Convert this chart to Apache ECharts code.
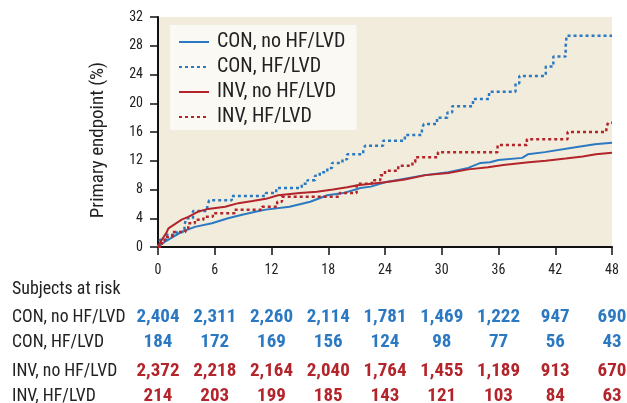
<!DOCTYPE html>
<html><head><meta charset="utf-8">
<script src="https://cdn.jsdelivr.net/npm/echarts@6/dist/echarts.min.js"></script>
<style>html,body{margin:0;padding:0;background:#fff}#c{width:627px;height:403px}</style>
</head><body><div id="c"></div>
<script>
const FONT = '"Roboto Condensed","Liberation Sans Narrow","Roboto",sans-serif';
const BLUE = '#2b79c2', RED = '#b3242b';

const seriesNames = ['CON, no HF/LVD', 'CON, HF/LVD', 'INV, no HF/LVD', 'INV, HF/LVD'];
const xTicks = [0, 6, 12, 18, 24, 30, 36, 42, 48];

// [month, %]
const conNoHF = [[0,0],[0.7,0.7],[2.5,2.1],[3.9,2.8],[5.7,3.3],[7.4,4.0],[8.9,4.5],[10.3,4.9],[11.4,5.2],[13.9,5.6],[16.1,6.3],[17.9,7.2],[19.6,7.5],[21.4,8.2],[22.5,8.4],[24,9.0],[28.2,10.0],[30.7,10.4],[32.8,11.0],[34.1,11.7],[35.1,11.8],[36,12.1],[38.5,12.4],[39.1,12.9],[40.9,13.2],[43.8,13.8],[46.2,14.3],[48,14.5]];
const conHF = [[0,0],[0.2,1.0],[0.9,1.7],[2.0,2.1],[2.8,3.1],[3.0,4.0],[3.7,5.0],[5.2,5.5],[5.4,6.5],[7.8,7.1],[11.4,7.5],[12.5,8.2],[15.2,8.8],[15.8,9.3],[16.6,9.9],[17.1,10.4],[17.9,11.0],[18.4,11.7],[19.5,12.2],[20.0,12.9],[21.7,13.5],[21.9,14.1],[23.8,14.8],[26.1,15.6],[27.9,16.4],[28.1,17.1],[29.5,18.0],[30.6,18.7],[31.1,19.6],[33.3,20.6],[35.0,21.6],[37.8,22.8],[38.2,23.8],[41.0,25.1],[41.8,26.5],[43.1,27.9],[43.2,29.4],[48,29.4]];
const invNoHF = [[0,0],[0.3,0.8],[0.9,2.0],[1.1,2.6],[2.5,3.8],[3.2,4.2],[4.2,4.9],[5.3,5.3],[7.1,5.6],[8.5,6.1],[10,6.4],[11.4,6.7],[12.7,7.2],[15,7.5],[16.8,7.7],[18.5,8.0],[20,8.3],[21.1,8.6],[24,9.0],[26.1,9.4],[28.3,10.0],[30.7,10.3],[32.8,10.8],[34.9,11.1],[36.5,11.4],[39.2,11.8],[41,12.0],[43.1,12.3],[44.9,12.6],[46.3,12.9],[48,13.1]];
const invHF = [[0,0],[0.4,0.7],[0.7,1.4],[1.5,2.1],[2.9,2.6],[3.2,3.3],[3.9,3.8],[4.8,4.2],[5.8,4.7],[8.1,5.2],[11.0,5.6],[12.6,6.3],[13.1,7.0],[19.2,7.5],[21.0,8.8],[22.6,9.3],[23.5,10.0],[24.0,10.6],[25.4,11.3],[26.9,11.8],[27.2,12.5],[29.6,13.2],[35.9,14.2],[39.0,15.0],[43.3,16.0],[47.4,16.7],[47.6,17.3],[48,17.3]];

const riskConNoHF = ['2,404','2,311','2,260','2,114','1,781','1,469','1,222','947','690'];
const riskConHF   = ['184','172','169','156','124','98','77','56','43'];
const riskInvNoHF = ['2,372','2,218','2,164','2,040','1,764','1,455','1,189','913','670'];
const riskInvHF   = ['214','203','199','185','143','121','103','84','63'];

const chart = echarts.init(document.getElementById('c'));
const dot = [3, 3];
chart.setOption({
  animation: false,
  textStyle: {fontFamily: FONT},
  grid: {left: 158, right: 15, top: 17, bottom: 156, show: true, backgroundColor: '#f1ecdb', borderWidth: 0},
  legend: {
    orient: 'vertical', left: 170, top: 25, itemWidth: 30, itemHeight: 14, itemGap: 5,
    backgroundColor: '#faf9f4', padding: [7, 11, 3, 8], borderWidth: 0,
    itemStyle: {opacity: 0},
    textStyle: {fontFamily: FONT, fontSize: 20, lineHeight: 20, color: '#222', padding: [0, 0, 0, 3]},
    data: seriesNames
  },
  xAxis: {
    type: 'value', min: 0, max: 48, interval: 6,
    axisLine: {show: true, onZero: false, lineStyle: {color: '#111', width: 2}},
    axisTick: {show: true, length: 8, lineStyle: {color: '#111', width: 1.5}},
    axisLabel: {fontFamily: FONT, fontSize: 14, color: '#222', margin: 16},
    splitLine: {show: false}
  },
  yAxis: {
    type: 'value', min: 0, max: 32, interval: 4,
    name: 'Primary endpoint (%)', nameLocation: 'middle', nameGap: 50,
    nameTextStyle: {fontFamily: FONT, fontSize: 19, color: '#222', padding: [0, 16, 0, 0]},
    axisLine: {show: true, lineStyle: {color: '#111', width: 2}},
    axisTick: {show: true, length: 8, lineStyle: {color: '#111', width: 1.5}},
    axisLabel: {fontFamily: FONT, fontSize: 14, color: '#222', margin: 15},
    splitLine: {show: false}
  },
  series: [
    {name: seriesNames[0], type: 'line', data: conNoHF, symbol: 'none', lineStyle: {color: BLUE, width: 2}, itemStyle: {color: BLUE}},
    {name: seriesNames[1], type: 'line', step: 'end', data: conHF, symbol: 'none', lineStyle: {color: BLUE, width: 2.5, type: dot}, itemStyle: {color: BLUE}},
    {name: seriesNames[2], type: 'line', data: invNoHF, symbol: 'none', lineStyle: {color: RED, width: 2}, itemStyle: {color: RED}},
    {name: seriesNames[3], type: 'line', step: 'end', data: invHF, symbol: 'none', lineStyle: {color: RED, width: 2.5, type: dot}, itemStyle: {color: RED}}
  ]
});

// risk table
const rows = [
  {label: seriesNames[0], vals: riskConNoHF, color: BLUE, y: 317},
  {label: seriesNames[1], vals: riskConHF, color: BLUE, y: 342},
  {label: seriesNames[2], vals: riskInvNoHF, color: RED, y: 371},
  {label: seriesNames[3], vals: riskInvHF, color: RED, y: 396}
];
const g = [{type: 'text', x: 12, y: 289, scaleX: 0.94, style: {text: 'Subjects at risk', font: '19px ' + FONT, fill: '#222', verticalAlign: 'middle'}}];
rows.forEach(r => {
  g.push({type: 'text', x: 12, y: r.y, scaleX: 0.93, style: {text: r.label, font: '19px ' + FONT, fill: '#222', verticalAlign: 'middle'}});
  r.vals.forEach((v, i) => {
    const px = chart.convertToPixel({xAxisIndex: 0}, xTicks[i]);
    g.push({type: 'text', x: px, y: r.y, style: {text: v, font: 'bold 19px ' + FONT, fill: r.color, align: 'center', verticalAlign: 'middle'}});
  });
});
chart.setOption({graphic: g});
</script></body></html>
